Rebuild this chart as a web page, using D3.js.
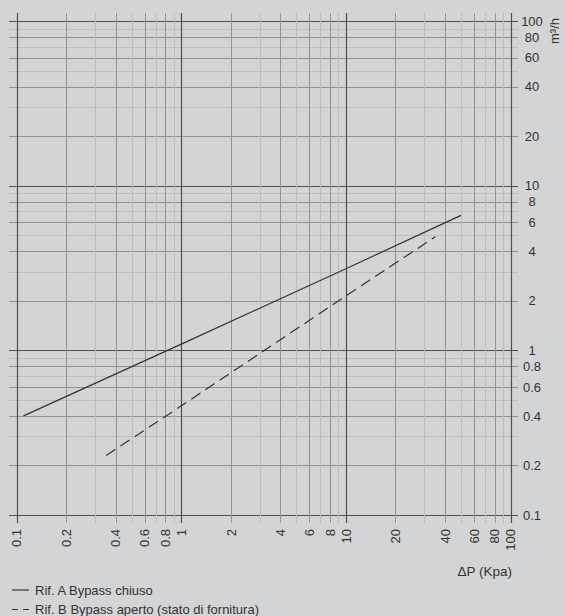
<!DOCTYPE html>
<html>
<head>
<meta charset="utf-8">
<script src="https://cdn.jsdelivr.net/npm/d3@7/dist/d3.min.js"></script>
<style>
  html, body { margin: 0; padding: 0; background: #d3d4d6; }
  svg { display: block; }
  text { font-family: "Liberation Sans", Arial, sans-serif; fill: #333; }
</style>
</head>
<body>
<svg id="chart" width="565" height="616"></svg>
<script>
// ---- data ----
const xTickLabels = [0.1, 0.2, 0.4, 0.6, 0.8, 1, 2, 4, 6, 8, 10, 20, 40, 60, 80, 100];
const yTickLabels = [0.1, 0.2, 0.4, 0.6, 0.8, 1, 2, 4, 6, 8, 10, 20, 40, 60, 80, 100];
const seriesA_dp = [0.11, 1, 10, 50];
const seriesA_q  = [0.40, 1.09, 3.13, 6.6];
const seriesB_dp = [0.35, 1, 10, 35];
const seriesB_q  = [0.23, 0.46, 2.14, 4.9];
const legendLabels = ["Rif. A Bypass chiuso", "Rif. B Bypass aperto (stato di fornitura)"];
const xTitle = "\u0394P (Kpa)";
const yTitle = "m\u00B3/h";

// ---- layout ----
const svg = d3.select("#chart");
const x = d3.scaleLog().domain([0.1, 100]).range([16.7, 510.5]);
const y = d3.scaleLog().domain([0.1, 100]).range([515, 21]);

// grid values: 1..9 in each decade plus 100
const gridVals = [];
[0.1, 1, 10].forEach(d => { for (let k = 1; k <= 9; k++) gridVals.push(+(d * k).toPrecision(3)); });
gridVals.push(100);

function mantissa(v) { return Math.round(v / Math.pow(10, Math.floor(Math.log10(v) + 1e-9))); }
function rank(v) { const m = mantissa(v); return m === 1 ? 2 : (m % 2 === 0 ? 1 : 0); }
function gridStyle(v) {
  const r = rank(v);
  if (r === 2) return { c: "#4f4f4f", w: 1.2 };
  if (r === 1) return { c: "#929292", w: 1 };
  return { c: "#bdbdbd", w: 1 };
}

const grid = svg.append("g");
const order = gridVals.slice().sort((a, b) => rank(a) - rank(b));
order.forEach(v => {
  const s = gridStyle(v);
  grid.append("line")
    .attr("x1", 9).attr("x2", 518)
    .attr("y1", Math.round(y(v)) + 0.5).attr("y2", Math.round(y(v)) + 0.5)
    .attr("stroke", s.c).attr("stroke-width", s.w);
});
order.forEach(v => {
  const s = gridStyle(v);
  grid.append("line")
    .attr("y1", 13).attr("y2", 523)
    .attr("x1", Math.round(x(v)) + 0.5).attr("x2", Math.round(x(v)) + 0.5)
    .attr("stroke", s.c).attr("stroke-width", s.w);
});

// y tick labels (right)
svg.append("g").selectAll("text").data(yTickLabels).join("text")
  .attr("x", 532).attr("y", d => y(d)).attr("dy", "0.36em")
  .attr("text-anchor", "middle").attr("font-size", 13)
  .text(d => d);

// x tick labels (rotated)
svg.append("g").selectAll("text").data(xTickLabels).join("text")
  .attr("transform", d => `translate(${x(d)},529) rotate(-90)`)
  .attr("dy", "0.36em")
  .attr("text-anchor", "end").attr("font-size", 13)
  .text(d => d);

// axis titles
svg.append("text").attr("x", 512).attr("y", 576)
  .attr("text-anchor", "end").attr("font-size", 13.5).text(xTitle);
svg.append("text").attr("transform", "translate(559,31) rotate(-90)")
  .attr("text-anchor", "middle").attr("font-size", 13).text(yTitle);

// series
const line = d3.line().x(d => x(d[0])).y(d => y(d[1]));
svg.append("path")
  .datum(d3.zip(seriesA_dp, seriesA_q))
  .attr("d", line).attr("fill", "none")
  .attr("stroke", "#333").attr("stroke-width", 1.2);
svg.append("path")
  .datum(d3.zip(seriesB_dp, seriesB_q))
  .attr("d", line).attr("fill", "none")
  .attr("stroke", "#333").attr("stroke-width", 1.2)
  .attr("stroke-dasharray", "11,6");

// legend
const leg = svg.append("g");
leg.append("line").attr("x1", 12).attr("x2", 29).attr("y1", 590).attr("y2", 590)
  .attr("stroke", "#333").attr("stroke-width", 1.2);
leg.append("line").attr("x1", 12).attr("x2", 29).attr("y1", 609.5).attr("y2", 609.5)
  .attr("stroke", "#333").attr("stroke-width", 1.2).attr("stroke-dasharray", "6,5");
leg.selectAll("text").data(legendLabels).join("text")
  .attr("x", 35).attr("y", (d, i) => 594.5 + i * 19.5)
  .attr("font-size", 13).text(d => d);
</script>
</body>
</html>
